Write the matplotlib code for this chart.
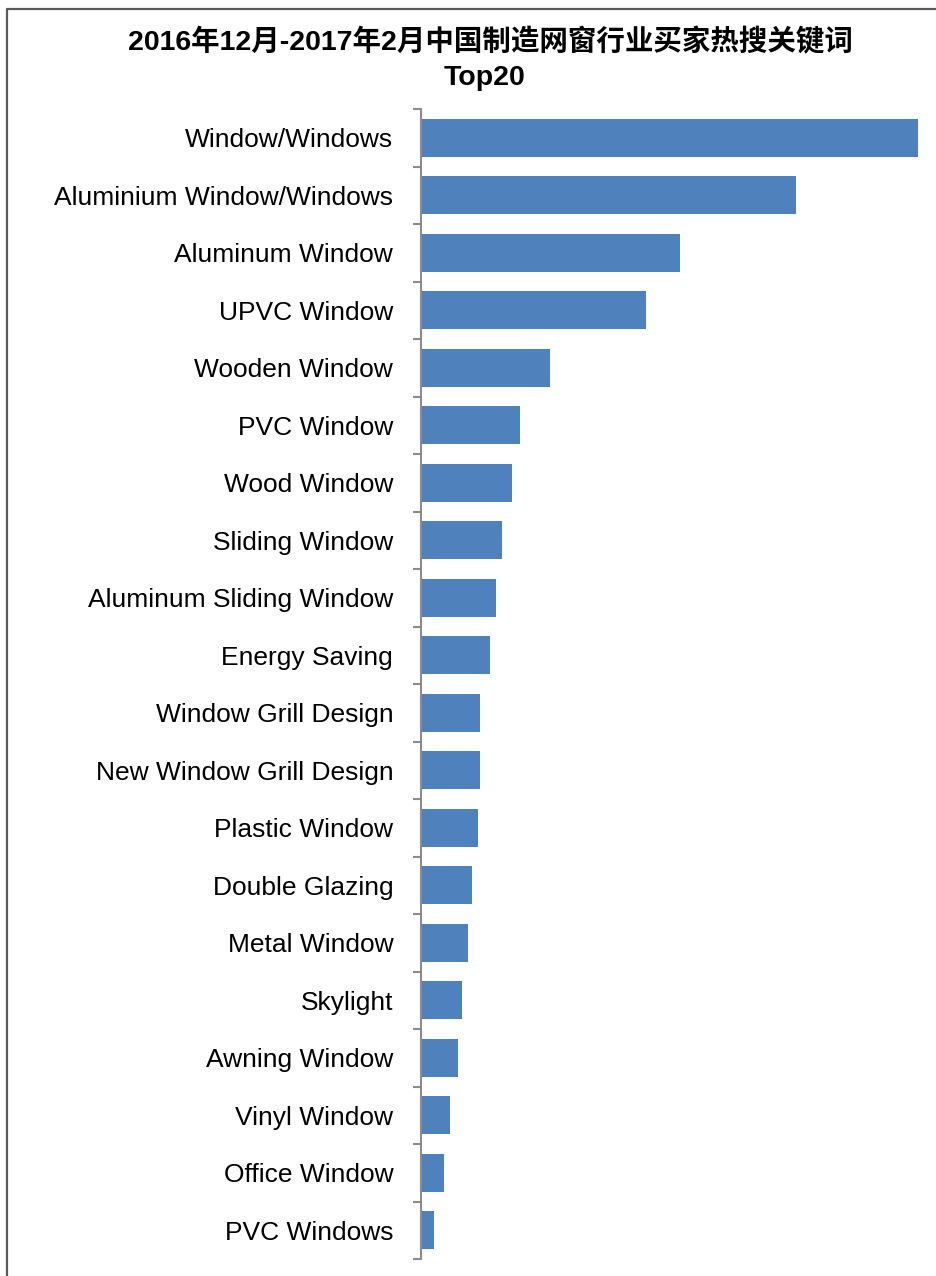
import matplotlib.pyplot as plt
from matplotlib.lines import Line2D

# 热搜关键词 (从上到下) 与相对搜索热度
keywords = [
    "Window/Windows",
    "Aluminium Window/Windows",
    "Aluminum Window",
    "UPVC Window",
    "Wooden Window",
    "PVC Window",
    "Wood Window",
    "Sliding Window",
    "Aluminum Sliding Window",
    "Energy Saving",
    "Window Grill Design",
    "New Window Grill Design",
    "Plastic Window",
    "Double Glazing",
    "Metal Window",
    "Skylight",
    "Awning Window",
    "Vinyl Window",
    "Office Window",
    "PVC Windows",
]
heat = [497, 375, 259, 225, 129, 99, 91, 81, 75, 69,
        59, 59, 57, 51, 47, 41, 37, 29, 23, 13]

title_line1 = "2016年12月-2017年2月中国制造网窗行业买家热搜关键词"
title_line2 = "Top20"

W, H = 936, 1276
fig = plt.figure(figsize=(W / 100, H / 100), dpi=100)

ax = fig.add_axes([421 / W, 1 - 1259 / H, 500 / W, (1259 - 109) / H])

n = len(keywords)
pos = list(range(n))
ax.barh(pos, heat, height=0.66, color="#4F81BD", edgecolor="none")
ax.set_xlim(0, 500)
ax.set_ylim(n - 0.5, -0.5)

ax.set_yticks(pos)
ax.set_yticklabels(keywords, family="Liberation Sans", fontsize=19)
ax.tick_params(axis="y", which="major", length=0, pad=20)
ax.set_yticks([i - 0.5 for i in range(n + 1)], minor=True)
ax.tick_params(axis="y", which="minor", length=6, width=1.5, color="#8C8C8C")
ax.set_xticks([])

for side in ["top", "right", "bottom"]:
    ax.spines[side].set_visible(False)
ax.spines["left"].set_color("#8C8C8C")
ax.spines["left"].set_linewidth(1.5)

# 标题
fig.text(490 / W, 1 - 42 / H, title_line1, ha="center", va="center",
         fontsize=20.5, fontweight="bold",
         family=["Liberation Sans", "Noto Sans CJK SC"])
fig.text(484 / W, 1 - 78 / H, title_line2, ha="center", va="center",
         fontsize=20.5, fontweight="bold", family="Liberation Sans")

# 外框 (只露出左边和上边)
fig.add_artist(Line2D([7 / W, 7 / W, 1.0], [0.0, 1 - 9 / H, 1 - 9 / H],
                      transform=fig.transFigure, color="#5A5A5A", lw=1.6))

fig.savefig("out.png", dpi=100)
